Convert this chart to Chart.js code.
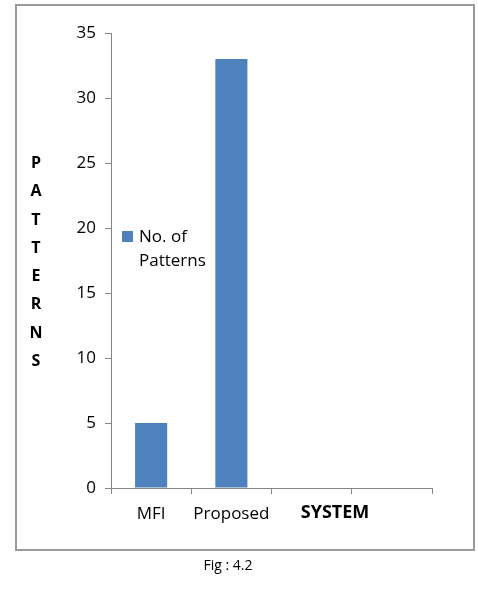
<!DOCTYPE html>
<html lang="en">
<head>
    <meta charset="UTF-8">
    <title>No. of Patterns by System</title>
    <script src="https://cdn.jsdelivr.net/npm/chart.js"></script>
    <style>
        body {
            margin: 0;
            background: #ffffff;
            font-family: "Open Sans", sans-serif;
        }
        .wrap {
            position: relative;
            width: 478px;
            height: 596px;
        }
        .frame {
            position: absolute;
            left: 15px;
            top: 4px;
            width: 456px;
            height: 543px;
            border: 2px solid #9a9a9a;
        }
        canvas {
            position: absolute;
            left: 0;
            top: 0;
        }
        .y-title {
            position: absolute;
            left: 25px;
            top: 148px;
            width: 22px;
            text-align: center;
            font-weight: bold;
            font-size: 16px;
            line-height: 28.3px;
            color: #000;
        }
        .legend {
            position: absolute;
            left: 122px;
            top: 224px;
            list-style: none;
            margin: 0;
            padding: 0;
            font-size: 17px;
            line-height: 24px;
            color: #000;
        }
        .legend-item {
            display: flex;
            align-items: flex-start;
        }
        .legend-color-box {
            width: 11px;
            height: 11px;
            margin-top: 7px;
            margin-right: 6px;
        }
        .caption {
            position: absolute;
            left: 0;
            top: 555px;
            width: 456px;
            text-align: center;
            font-size: 14px;
            color: #000;
        }
    </style>
</head>
<body>

<div class="wrap">
    <div class="frame"></div>
    <canvas id="myChart" width="478" height="596"></canvas>
    <div class="y-title" id="yTitle"></div>
    <ul class="legend" id="legend"></ul>
    <div class="caption">Fig : 4.2</div>
</div>

<script>
    const systems = ['MFI', 'Proposed', '', ''];
    const patterns = [5, 33, null, null];
    const seriesName = 'No. of Patterns';
    const yTitle = 'PATTERNS';
    const xTitle = 'SYSTEM';
    const barColor = '#4F81BD';
    const axisColor = '#868686';

    // axis title drawn next to the category labels, like the original
    const xTitlePlugin = {
        id: 'xTitle',
        afterDraw(chart) {
            const c = chart.ctx;
            c.save();
            c.font = 'bold 18px "Open Sans"';
            c.fillStyle = '#000';
            c.textAlign = 'center';
            c.textBaseline = 'middle';
            c.fillText(xTitle, 335, 513);
            c.restore();
        }
    };

    const ctx = document.getElementById('myChart').getContext('2d');

    new Chart(ctx, {
        type: 'bar',
        data: {
            labels: systems,
            datasets: [{
                label: seriesName,
                data: patterns,
                backgroundColor: barColor,
                categoryPercentage: 1,
                barPercentage: 0.4
            }]
        },
        options: {
            responsive: false,
            animation: false,
            layout: {
                padding: { top: 33, right: 46, bottom: 0, left: 0 }
            },
            plugins: {
                legend: { display: false },
                tooltip: { enabled: false }
            },
            scales: {
                x: {
                    afterFit(scale) { scale.height = 108; },
                    grid: {
                        display: true,
                        drawOnChartArea: false,
                        drawTicks: true,
                        tickLength: 6,
                        color: axisColor,
                        offset: true
                    },
                    border: { display: true, color: axisColor },
                    ticks: {
                        color: '#000',
                        padding: 10,
                        font: { family: 'Open Sans', size: 17 },
                        maxRotation: 0
                    }
                },
                y: {
                    min: 0,
                    max: 35,
                    afterFit(scale) { scale.width = 111; },
                    grid: {
                        display: true,
                        drawOnChartArea: false,
                        drawTicks: true,
                        tickLength: 6,
                        color: axisColor
                    },
                    border: { display: true, color: axisColor },
                    ticks: {
                        stepSize: 5,
                        color: '#000',
                        padding: 9,
                        font: { family: 'Open Sans', size: 17 }
                    }
                }
            }
        },
        plugins: [xTitlePlugin]
    });

    // vertical axis title, one letter per line
    document.getElementById('yTitle').innerHTML = yTitle.split('').join('<br>');

    // legend placed inside the plot, text wraps onto two lines
    function createLegend() {
        const legendContainer = document.getElementById('legend');
        const listItem = document.createElement('li');
        listItem.classList.add('legend-item');

        const colorBox = document.createElement('div');
        colorBox.classList.add('legend-color-box');
        colorBox.style.backgroundColor = barColor;

        const legendText = document.createElement('span');
        legendText.innerHTML = 'No. of<br>Patterns';

        listItem.appendChild(colorBox);
        listItem.appendChild(legendText);
        legendContainer.appendChild(listItem);
    }

    createLegend();
</script>

</body>
</html>
